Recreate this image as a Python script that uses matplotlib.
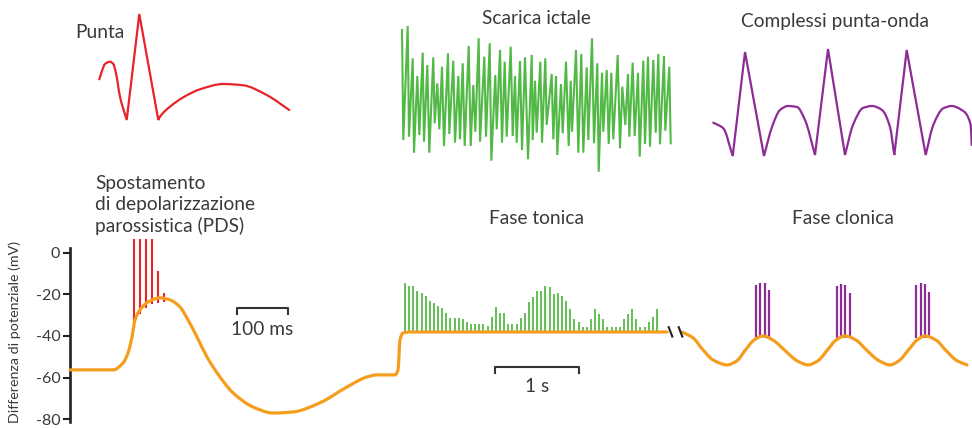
import numpy as np
import matplotlib
matplotlib.use('Agg')
import matplotlib.pyplot as plt
from matplotlib.path import Path
from matplotlib.patches import PathPatch

plt.rcParams['font.family'] = ['Lato', 'DejaVu Sans']

W, H = 972, 428
ORANGE = '#f59d1e'
RED = '#e8232a'
GREEN = '#52b946'
PURPLE = '#8e2c96'
TEXT = '#3a3a3a'

# --- main trace (x: time units, y: mV) ---
trace_x = [0, 43, 53, 58, 62, 65, 70, 78, 90, 100, 110, 118, 127, 137, 150, 163,
           183, 203, 223, 250, 277, 297, 307, 325, 328, 330, 333, 340, 597]
trace_y = [-56.3, -56.3, -53.0, -48.2, -40.5, -32.3, -27.5, -23.7, -21.7, -22.7,
           -26.1, -32.3, -40.5, -50.1, -59.7, -67.3, -74.1, -77.0, -76.5, -72.1,
           -64.5, -59.7, -58.7, -58.7, -56.3, -41.9, -38.6, -38.1, -38.1]

clonic_x = [612, 623, 633, 643, 657, 667, 675, 684, 693, 703, 715, 727, 738, 748,
            757, 766, 775, 786, 797, 809, 820, 829, 838, 847, 855, 866, 876, 887, 897]
clonic_y = [-38.1, -40.9, -46.7, -51.5, -53.9, -51.9, -47.0, -42.0, -40.0, -42.0,
            -47.0, -51.9, -53.9, -51.9, -47.0, -42.0, -40.0, -42.0, -47.0, -51.9,
            -53.9, -51.9, -47.0, -42.0, -40.0, -42.0, -47.0, -51.9, -53.9]

# PDS spikes
pds_x = [64, 70, 76, 82, 88, 94]
pds_top = [6.6, 6.6, 6.6, 6.6, -8.8, -19.3]
pds_base = [-36, -29.5, -26.5, -24.8, -24, -23.7]

# tonic phase spikes
tonic_first, tonic_last = 335, 587
tonic_top = [-14.7, -15.8, -15.8, -18.2, -19.5, -20.8, -23.2, -24.3, -25.4, -26.7,
             -29.1, -31.5, -31.5, -31.5, -32.0, -33.1, -34.4, -34.4, -34.4, -34.4,
             -35.0, -30.7, -25.9, -29.1, -29.1, -34.4, -34.4, -34.4, -31.5, -29.1,
             -23.5, -21.1, -18.4, -18.4, -15.8, -16.3, -19.8, -19.5, -20.6, -23.2,
             -27.0, -31.8, -33.1, -35.5, -35.5, -32.0, -27.2, -29.6, -32.0, -35.8,
             -35.8, -35.8, -35.8, -32.0, -29.6, -27.2, -32.0, -35.8, -35.8, -33.4,
             -30.9, -27.2]
tonic_base = -38.5

# clonic phase spikes
clon_x = [686, 690, 695, 699, 767, 771, 775, 780, 846, 851, 855, 859]
clon_top = [-15.5, -14.5, -14.5, -17.9, -16.0, -15.0, -15.5, -19.3, -15.5, -14.5, -15.0, -18.9]
clon_base = -41

yticks = [0, -20, -40, -60, -80]

# --- insets (local units) ---
punta_t = [4.3, 6.7, 10, 15, 18.3, 21, 25, 31.7, 44.3, 63.3, 65, 75, 88.3, 105,
           128.3, 148.3, 171.7, 194.3]
punta_v = [-9.3, -1.7, 6, 8.3, 6, -3.3, -26.7, -50, 56, -50, -46.7, -36.7, -27.3,
           -19.3, -14, -15.3, -25, -40]

ictal_t = [2.0, 3.3, 7.7, 9.0, 12.7, 14.0, 17.3, 19.3, 22.7, 24.0,
           27.3, 29.3, 33.3, 34.7, 37.3, 39.3, 42.0, 44.0, 48.0, 49.3,
           53.3, 55.0, 58.3, 60.0, 62.7, 64.7, 68.7, 70.7, 73.3, 75.3,
           78.7, 80.0, 84.3, 86.0, 89.7, 91.3, 95.3, 96.7, 100.0, 102.0,
           104.7, 106.7, 110.7, 112.7, 115.0, 116.7, 120.0, 122.0, 125.0, 128.0,
           131.7, 132.7, 135.0, 136.7, 140.3, 142.0, 145.3, 146.7, 151.7, 153.3,
           156.0, 157.3, 161.0, 162.7, 166.0, 168.7, 170.7, 172.0, 176.0, 178.3,
           181.3, 183.3, 186.7, 188.3, 192.0, 194.0, 197.3, 198.7, 202.0, 203.3,
           206.7, 208.7, 211.3, 213.3, 217.7, 220.0, 222.3, 225.3, 228.0, 229.3,
           232.7, 234.7, 238.0, 239.7, 243.3, 245.0, 248.0, 250.0, 253.3, 255.7,
           258.3, 260.0, 264.0, 265.3, 269.3, 270.7]
ictal_v = [70.0, -40.0, 74.0, -36.7, 41.7, -52.7, 24.0, -35.0, 47.3, -41.7,
           35.0, -52.7, 42.7, -23.3, 16.7, -29.3, 33.3, -46.0, 46.7, -34.0,
           39.3, -42.7, 24.0, -39.3, 36.7, -46.0, 54.0, -46.0, 15.0, -31.7,
           61.7, -41.7, 43.3, -36.7, 56.7, -60.7, 25.0, -29.3, 50.0, -42.7,
           38.3, -36.7, 53.3, -36.0, 24.0, -42.7, 39.0, -50.0, 42.7, -59.3,
           45.0, -40.0, 19.3, -32.7, 38.3, -42.7, 41.7, -25.0, 26.0, -39.3,
           24.0, -55.0, 16.0, -33.3, 38.3, -46.0, 19.3, -31.7, 50.0, -52.7,
           46.0, -52.7, 32.7, -40.0, 61.7, -43.3, 36.7, -71.7, 27.3, -31.7,
           30.0, -44.0, 27.3, -39.3, 45.0, -48.3, 13.3, -25.0, 26.0, -36.7,
           37.3, -36.0, 27.3, -56.7, 39.3, -44.0, 43.3, -46.7, 40.0, -32.7,
           46.0, -44.3, 44.0, -30.7, 33.3, -43.3]

spw_t = [3.3, 13.3, 22.7, 35.0, 54.0, 62.0, 70.0, 78.0, 87.0, 95.0, 105.0, 118.0,
         135.0, 143.0, 153.0, 162.0, 172.0, 180.0, 184.3, 196.7, 215.7, 223.3,
         233.3, 241.7, 251.7, 260.7, 261.7]
spw_v = [-17.7, -23.3, -51.0, 53.0, -51.0, -22.0, -5.0, -1.0, -2.0, -15.0, -50.0,
         56.0, -50.0, -20.0, -3.0, -1.0, -5.0, -22.0, -50.0, 55.0, -50.0, -20.0,
         -3.3, -1.0, -5.0, -20.0, -40.0]


def smooth_path(x, y, corners=()):
    # monotone cubic through the read points (bezier form), sharp at corners
    x = np.asarray(x, float)
    y = np.asarray(y, float)
    n = len(x)
    h = np.diff(x)
    d = np.diff(y) / h
    m_in = np.zeros(n)
    m_out = np.zeros(n)
    m_in[0] = m_out[0] = d[0]
    m_in[-1] = m_out[-1] = d[-1]
    for i in range(1, n - 1):
        if i in corners:
            m_in[i], m_out[i] = d[i - 1], d[i]
        elif d[i - 1] * d[i] <= 0:
            m_in[i] = m_out[i] = 0.0
        else:
            w1 = 2 * h[i] + h[i - 1]
            w2 = h[i] + 2 * h[i - 1]
            m_in[i] = m_out[i] = (w1 + w2) / (w1 / d[i - 1] + w2 / d[i])
    verts = [(x[0], y[0])]
    codes = [Path.MOVETO]
    for i in range(n - 1):
        verts += [(x[i] + h[i] / 3, y[i] + m_out[i] * h[i] / 3),
                  (x[i + 1] - h[i] / 3, y[i + 1] - m_in[i + 1] * h[i] / 3),
                  (x[i + 1], y[i + 1])]
        codes += [Path.CURVE4] * 3
    return Path(verts, codes)


def add_curve(ax, x, y, color, lw, corners=(), z=3):
    ax.add_patch(PathPatch(smooth_path(x, y, corners), fill=False, edgecolor=color,
                           lw=lw, capstyle='round', joinstyle='miter', zorder=z))


def inset(x0, x1, y0, y1, ox, oy):
    a = fig.add_axes([x0 / W, 1 - y1 / H, (x1 - x0) / W, (y1 - y0) / H])
    a.set_xlim(x0 - ox, x1 - ox)
    a.set_ylim(oy - y1, oy - y0)
    a.axis('off')
    return a


fig = plt.figure(figsize=(W / 100, H / 100), dpi=100)
ax = fig.add_axes([0, 0, 1, 1])
ax.set_xlim(-70, 902)
ax.set_ylim(-84.2, 121.3)
ax.patch.set_alpha(0)

for s in ['top', 'right', 'bottom']:
    ax.spines[s].set_visible(False)
ax.spines['left'].set_position(('data', 0))
ax.spines['left'].set_bounds(-81.5, 2)
ax.spines['left'].set_linewidth(1.9)
ax.spines['left'].set_color('#222222')
ax.set_yticks(yticks)
ax.set_yticklabels([str(v) for v in yticks])
ax.tick_params(axis='y', direction='out', length=5, width=1.5, colors='#222222',
               labelsize=11.5, labelcolor=TEXT, pad=2)
ax.set_xticks([])

# spikes
ax.vlines(pds_x, pds_base, pds_top, color=RED, lw=1.5, zorder=2)
tonic_x = np.linspace(tonic_first, tonic_last, len(tonic_top))
ax.vlines(tonic_x, tonic_base, tonic_top, color='#62c055', lw=1.4, zorder=2)
ax.vlines(clon_x, clon_base, clon_top, color=PURPLE, lw=1.6, zorder=2)

# membrane potential
add_curve(ax, trace_x, trace_y, ORANGE, 2.3)
add_curve(ax, clonic_x, clonic_y, ORANGE, 2.3)

# break marks
for bx in [600.5, 610.5]:
    ax.plot([bx - 1.8, bx + 1.8], [-35.8, -40.3], color='#222222', lw=1.5, zorder=4)

# scale bars
ax.plot([167, 167, 218, 218], [-29.4, -26.4, -26.4, -29.4], color='#333333', lw=1.5)
ax.text(192.5, -36.8, '100 ms', ha='center', va='center', fontsize=13.8, color=TEXT)
ax.plot([425, 425, 509, 509], [-57.9, -54.7, -54.7, -57.9], color='#333333', lw=1.5)
ax.text(467, -64.2, '1 s', ha='center', va='center', fontsize=13.8, color=TEXT)

fig.text(15 / W, 1 - 332 / H, 'Differenza di potenziale (mV)', rotation=90,
         ha='center', va='center', fontsize=10.3, color=TEXT)


def label(x, y, s, ha='center', ls=1.1):
    fig.text(x / W, 1 - y / H, s, ha=ha, va='center', fontsize=13.8, color=TEXT,
             linespacing=ls)


label(75, 33, 'Punta', ha='left')
label(536, 18, 'Scarica ictale')
label(835, 22, 'Complessi punta-onda')
label(95, 205, 'Spostamento\ndi depolarizzazione\nparossistica (PDS)', ha='left', ls=1.3)
label(536, 218, 'Fase tonica')
label(843, 218, 'Fase clonica')

# insets
a1 = inset(90, 300, 0, 130, 95, 70)
add_curve(a1, punta_t, punta_v, RED, 1.6, corners=(7, 8, 9))

a2 = inset(395, 680, 15, 185, 400, 100)
a2.plot(ictal_t, ictal_v, color=GREEN, lw=1.5, solid_joinstyle='miter')

a3 = inset(705, 972, 30, 170, 710, 105)
add_curve(a3, spw_t, spw_v, PURPLE, 1.6, corners=(2, 3, 4, 10, 11, 12, 18, 19, 20))

fig.savefig('out.png', dpi=100)
